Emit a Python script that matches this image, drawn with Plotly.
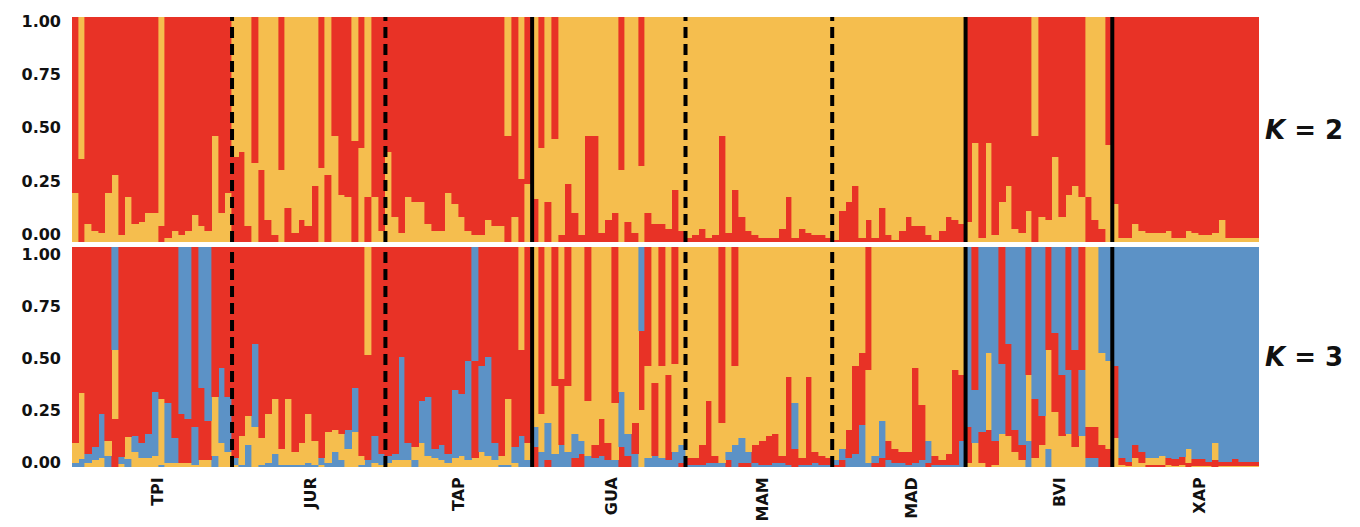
import plotly.graph_objects as go

YELLOW = "#F5BE4E"
RED = "#E83226"
BLUE = "#5C92C6"
CLUSTER_COLORS = [YELLOW, RED, BLUE]

POPS = ["TPI", "JUR", "TAP", "GUA", "MAM", "MAD", "BVI", "XAP"]
SEP_STYLE = ["dash", "dash", "solid", "dash", "dash", "solid", "solid"]
LABEL_PX = [158, 311, 459, 612, 763, 912, 1060, 1200]
Y_TICKS = [0, 0.25, 0.5, 0.75, 1.0]
Y_TICKTEXT = ["0.00", "0.25", "0.50", "0.75", "1.00"]

# ---- K = 2 : membership in the "yellow" cluster (red = 1 - yellow) ----
K2_TPI = [0.22, 0.63, 0.08, 0.05, 0.04, 0.22, 0.30, 0.03, 0.20, 0.08, 0.09, 0.13,
          0.13, 0.93, 0.02, 0.05, 0.03, 0.05, 0.12, 0.07, 0.05, 0.47, 0.13, 0.22]
K2_JUR = [0.62, 0.60, 0.93, 0.35, 0.68, 0.90, 0.97, 0.32, 0.85, 0.96, 0.90, 0.93,
          0.75, 0.33, 0.70, 0.47, 0.21, 0.20, 0.55, 0.42, 0.80, 0.20, 0.05]
K2_TAP = [0.40, 0.11, 0.04, 0.20, 0.18, 0.18, 0.08, 0.05, 0.05, 0.22, 0.17, 0.11,
          0.05, 0.03, 0.03, 0.10, 0.07, 0.07, 0.53, 0.11, 0.72, 0.26]
K2_GUA = [0.81, 0.42, 0.82, 0.46, 0.97, 0.74, 0.87, 0.97, 0.53, 0.53, 0.96, 0.90,
          0.87, 0.32, 0.91, 0.96, 0.34, 0.87, 0.92, 0.92, 0.94, 0.77, 0.95]
K2_MAM = [0.98, 0.97, 0.94, 0.98, 0.97, 0.53, 0.96, 0.77, 0.89, 0.95, 0.97, 0.98,
          0.98, 0.98, 0.94, 0.80, 0.98, 0.94, 0.96, 0.97, 0.97, 0.98]
K2_MAD = [0.99, 0.86, 0.82, 0.75, 0.98, 0.90, 0.98, 0.85, 0.97, 0.99, 0.95, 0.89,
          0.93, 0.93, 0.97, 0.99, 0.95, 0.89, 0.90, 0.92]
K2_BVI = [0.09, 0.44, 0.02, 0.44, 0.03, 0.18, 0.25, 0.06, 0.04, 0.14, 0.53, 0.11,
          0.10, 0.38, 0.11, 0.21, 0.25, 0.20, 0.80, 0.90, 0.94, 0.43]
K2_XAP = [0.17, 0.02, 0.02, 0.08, 0.05, 0.04, 0.04, 0.04, 0.05, 0.02, 0.02, 0.05,
          0.04, 0.03, 0.03, 0.04, 0.10, 0.02, 0.02, 0.02, 0.02, 0.02]

# ---- K = 3 : (yellow, red, blue) memberships ----
K3_TPI = [(.09, .89, .02), (.30, .665, .035), (.02, .94, .04), (.03, .91, .06),
          (.04, .76, .20), (.07, .88, .05), (.31, .22, .47), (.015, .955, .03),
          (.10, .865, .035), (.07, .86, .07), (.04, .89, .07), (.04, .85, .11),
          (.05, .66, .29), (.30, .69, .01), (.02, .71, .27), (.02, .87, .11),
          (.02, .22, .76), (.02, .20, .78), (.01, .82, .17), (.03, .33, .64),
          (.03, .18, .79), (.27, .68, .05), (.11, .55, .34), (.07, .68, .25)]
K3_JUR = [(.01, .96, .03), (.13, .86, .01), (.13, .77, .10), (.18, .44, .38),
          (.12, .87, .01), (.22, .76, .02), (.25, .69, .06), (.07, .92, .01),
          (.30, .69, .01), (.06, .93, .01), (.10, .89, .01), (.22, .76, .02),
          (.11, .88, .01), (.01, .96, .03), (.14, .84, .02), (.10, .83, .07),
          (.12, .85, .03), (.08, .83, .09), (.16, .64, .20), (.04, .95, .01),
          (.49, .48, .03), (.02, .86, .12), (.01, .94, .05)]
K3_TAP = [(.02, .95, .03), (.03, .94, .03), (.03, .50, .47), (.03, .89, .08),
          (.06, .91, .03), (.11, .70, .19), (.05, .68, .27), (.04, .92, .04),
          (.03, .90, .07), (.02, .94, .04), (.04, .65, .31), (.05, .67, .28),
          (.03, .52, .45), (.04, .44, .52), (.07, .54, .39), (.05, .50, .45),
          (.03, .89, .08), (.04, .95, .01), (.30, .69, .01), (.02, .91, .07),
          (.47, .39, .14), (.08, .89, .03)]
K3_GUA = [(.82, .09, .09), (.17, .76, .07), (.80, .03, .17), (.31, .63, .06),
          (.60, .30, .10), (.30, .63, .07), (.85, .04, .11), (.88, .06, .06),
          (.25, .70, .05), (.90, .06, .04), (.78, .17, .05), (.89, .08, .03),
          (.26, .71, .03), (.66, .09, .25), (.85, .05, .10), (.80, .14, .06),
          (.26, .36, .38), (.42, .54, .04), (.62, .33, .05), (.42, .54, .04),
          (.58, .39, .03), (.40, .53, .07), (.90, .02, .08)]
K3_MAM = [(.96, .03, .01), (.96, .03, .01), (.90, .09, .01), (.70, .28, .02),
          (.95, .03, .02), (.18, .80, .02), (.93, .03, .04), (.36, .54, .10),
          (.87, .02, .11), (.93, .02, .05), (.90, .08, .02), (.88, .11, .01),
          (.86, .13, .01), (.85, .13, .02), (.95, .03, .02), (.59, .40, .01),
          (.71, .08, .21), (.96, .03, .01), (.59, .40, .01), (.93, .05, .02),
          (.95, .04, .01), (.96, .03, .01)]
K3_MAD = [(.97, .01, .02), (.92, .03, .05), (.83, .13, .04), (.54, .40, .06),
          (.48, .33, .19), (.42, .56, .02), (.95, .02, .03), (.79, .04, .17),
          (.88, .09, .03), (.92, .06, .02), (.93, .05, .02), (.93, .06, .01),
          (.55, .43, .02), (.72, .25, .03), (.88, .02, .10), (.95, .04, .01),
          (.97, .02, .01), (.94, .05, .01), (.56, .43, .01), (.58, .30, .12)]
K3_BVI = [(.02, .16, .82), (.11, .65, .24), (.02, .14, .84), (.35, .17, .48),
          (.01, .11, .88), (.15, .53, .32), (.14, .42, .44), (.07, .10, .83),
          (.03, .07, .90), (.30, .58, .12), (.04, .27, .69), (.10, .13, .77),
          (.45, .47, .08), (.25, .36, .39), (.14, .28, .58), (.15, .56, .29),
          (.09, .44, .47), (.14, .56, .30), (.82, .14, .04), (.82, .14, .04),
          (.42, .10, .48), (.40, .08, .52)]
K3_XAP = [(.13, .33, .54), (.01, .03, .96), (.005, .02, .975), (.04, .06, .90),
          (.02, .05, .93), (.03, .01, .96), (.03, .01, .96), (.04, .01, .95),
          (.01, .03, .96), (.005, .03, .965), (.01, .035, .955), (.06, .02, .92),
          (.005, .03, .965), (.005, .03, .965), (.005, .02, .975), (.08, .03, .89),
          (.005, .02, .975), (.005, .02, .975), (.005, .03, .965), (.005, .02, .975),
          (.005, .02, .975), (.005, .02, .975)]

K2 = dict(TPI=K2_TPI, JUR=K2_JUR, TAP=K2_TAP, GUA=K2_GUA, MAM=K2_MAM,
          MAD=K2_MAD, BVI=K2_BVI, XAP=K2_XAP)
K3 = dict(TPI=K3_TPI, JUR=K3_JUR, TAP=K3_TAP, GUA=K3_GUA, MAM=K3_MAM,
          MAD=K3_MAD, BVI=K3_BVI, XAP=K3_XAP)

# ---- assemble individuals ----
q2, q3, counts = [], [], []
for p in POPS:
    assert len(K2[p]) == len(K3[p]), p
    counts.append(len(K2[p]))
    for yv in K2[p]:
        q2.append((yv, 1 - yv))
    for t in K3[p]:
        s = sum(t)
        q3.append(tuple(v / s for v in t))
N = len(q2)
xs = list(range(N))

fig = go.Figure()


def add_panel(q, xa, ya):
    k = len(q[0])
    order = [sorted(range(k), key=lambda c: row[c]) for row in q]  # smallest at bottom
    for r in range(k):
        vals = [q[i][order[i][r]] for i in range(N)]
        cols = [CLUSTER_COLORS[order[i][r]] for i in range(N)]
        fig.add_trace(go.Bar(
            x=xs, y=vals, width=1.0, xaxis=xa, yaxis=ya,
            marker=dict(color=cols, line=dict(width=0.6, color=cols)),
            showlegend=False, hoverinfo="skip"))


add_panel(q2, "x", "y")
add_panel(q3, "x2", "y2")
# empty traces so the label-only overlay axes are drawn
fig.add_trace(go.Scatter(x=[None], y=[None], xaxis="x", yaxis="y3",
                         showlegend=False, hoverinfo="skip"))
fig.add_trace(go.Scatter(x=[None], y=[None], xaxis="x2", yaxis="y4",
                         showlegend=False, hoverinfo="skip"))

# population separators
cum = 0
for i, c in enumerate(counts[:-1]):
    cum += c
    for xr, yr in (("x", "y"), ("x2", "y2")):
        fig.add_shape(type="line", xref=xr, yref=yr,
                      x0=cum - 0.5, x1=cum - 0.5, y0=0, y1=1,
                      line=dict(color="black", width=4,
                                dash="solid" if SEP_STYLE[i] == "solid" else "11px,6px"))

# page body has an 8px margin: work in page pixels and subtract it
OFF = 8.0
W, H = 1360 - OFF, 527 - OFF
LEFT, RIGHT = 72.0, 1259.0
W_PLOT = RIGHT - LEFT
tick_pos = [(px - LEFT) / W_PLOT * N - 0.5 for px in LABEL_PX]


def dom(top_px, bot_px):
    return [1 - (bot_px - OFF) / H, 1 - (top_px - OFF) / H]


tickfont = dict(family="DejaVu Sans", size=16, color="#111111", weight="bold")
hidden_y = dict(range=[0, 1], showticklabels=False, showgrid=False, zeroline=False,
                showline=False, ticks="", fixedrange=True)
label_y = dict(tickvals=Y_TICKS, ticktext=Y_TICKTEXT, tickfont=tickfont,
               showgrid=False, zeroline=False, showline=False, ticks="",
               ticklabelstandoff=10, fixedrange=True, side="left")
xaxis_common = dict(range=[-0.5, N - 0.5], showgrid=False, zeroline=False,
                    showline=False, ticks="", fixedrange=True)

fig.update_layout(
    width=int(W), height=int(H),
    margin=dict(l=int(LEFT - OFF), r=int(1360 - RIGHT), t=0, b=0, autoexpand=False),
    paper_bgcolor="white", plot_bgcolor="white",
    barmode="stack", bargap=0,
    xaxis=dict(domain=[0, 1], anchor="y", showticklabels=False, **xaxis_common),
    xaxis2=dict(domain=[0, 1], anchor="y2", tickvals=tick_pos, ticktext=POPS,
                tickangle=-90, tickfont=dict(family="DejaVu Sans", size=16,
                                             color="#111111", weight="bold"),
                ticklabelstandoff=6, **xaxis_common),
    yaxis=dict(domain=dom(17, 242), anchor="x", **hidden_y),
    yaxis2=dict(domain=dom(247, 467), anchor="x2", **hidden_y),
    yaxis3=dict(overlaying="y", anchor="x", range=[-0.0377, 1.0221], **label_y),
    yaxis4=dict(overlaying="y2", anchor="x2", range=[-0.024, 1.0337], **label_y),
)

for txt, ya in (("<i>K</i> = 2", "y"), ("<i>K</i> = 3", "y2")):
    fig.add_annotation(text=txt, xref="paper", yref=ya, x=1.003, y=0.5,
                       xanchor="left", yanchor="middle", showarrow=False,
                       font=dict(family="DejaVu Sans", size=26, color="#111111",
                                 weight="bold"))

fig.write_html("out.html")
